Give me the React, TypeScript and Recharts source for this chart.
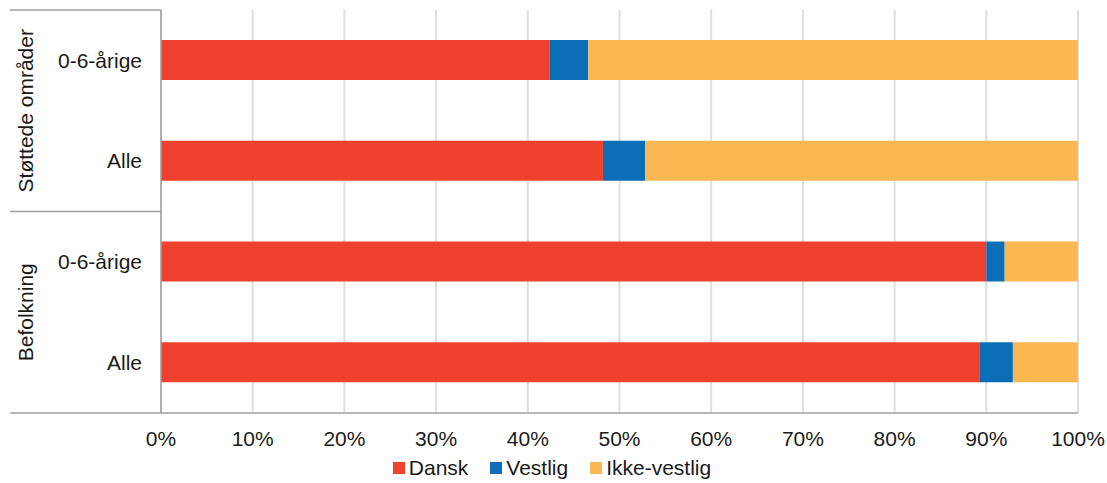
import React from 'react';
import { BarChart, Bar, XAxis, YAxis, CartesianGrid, Legend } from 'recharts';

const groups = ['Støttede områder', 'Støttede områder', 'Befolkning', 'Befolkning'];
const categories = ['0-6-årige', 'Alle', '0-6-årige', 'Alle'];
const dansk = [42.4, 48.2, 90.0, 89.3];
const vestlig = [4.2, 4.6, 2.0, 3.6];
const ikkeVestlig = [53.4, 47.2, 8.0, 7.1];
const xTicks = [0, 10, 20, 30, 40, 50, 60, 70, 80, 90, 100];

const W = 1107;
const H = 483;
const TOP = 10;
const LEGEND_H = 30;
const XAXIS_H = 40;
const Y_AXIS_W = 161;
const PLOT_H = H - TOP - LEGEND_H - XAXIS_H;
const BAND = PLOT_H / categories.length;
const FONT = '"Liberation Sans", Arial, sans-serif';
const FS = 21;
const LINE = '#a0a0a0';

const series = [
  { key: 'dansk', name: 'Dansk', color: '#EF412E' },
  { key: 'vestlig', name: 'Vestlig', color: '#0D6EB8' },
  { key: 'ikkeVestlig', name: 'Ikke-vestlig', color: '#FBB751' },
];

const data = categories.map((cat, i) => ({
  id: `${groups[i]}|${cat}`,
  group: groups[i],
  label: cat,
  dansk: dansk[i],
  vestlig: vestlig[i],
  ikkeVestlig: ikkeVestlig[i],
}));

function CategoryTick(props: any) {
  const { y, index } = props;
  const i = index as number;
  const isFirst = i === 0 || groups[i - 1] !== groups[i];
  const isLast = i === groups.length - 1;
  const count = groups.filter((g) => g === groups[i]).length;
  const groupTop = y - BAND / 2;
  const groupMid = groupTop + (count * BAND) / 2;
  return (
    <g>
      <text x={142} y={y} dy="0.35em" textAnchor="end" fontSize={FS} fill="#1a1a1a" fontFamily={FONT}>
        {categories[i]}
      </text>
      {isFirst && (
        <>
          <line x1={10} x2={Y_AXIS_W} y1={groupTop} y2={groupTop} stroke={LINE} strokeWidth={1.5} />
          <text
            x={26}
            y={groupMid}
            dy="0.35em"
            textAnchor="middle"
            fontSize={FS}
            fill="#1a1a1a"
            fontFamily={FONT}
            transform={`rotate(-90 26 ${groupMid})`}
          >
            {groups[i]}
          </text>
        </>
      )}
      {isLast && (
        <line x1={10} x2={Y_AXIS_W} y1={y + BAND / 2} y2={y + BAND / 2} stroke={LINE} strokeWidth={1.5} />
      )}
    </g>
  );
}

function LegendContent() {
  return (
    <div
      style={{
        display: 'flex',
        justifyContent: 'center',
        alignItems: 'center',
        height: LEGEND_H,
        paddingLeft: 26,
        fontFamily: FONT,
        fontSize: FS,
        color: '#1a1a1a',
      }}
    >
      {series.map((s) => (
        <div key={s.key} style={{ display: 'flex', alignItems: 'center', margin: '0 11px' }}>
          <span style={{ width: 12, height: 12, background: s.color, display: 'inline-block', marginRight: 4 }} />
          <span>{s.name}</span>
        </div>
      ))}
    </div>
  );
}

export default function App() {
  return (
    <div style={{ width: W, height: H, background: '#fff' }}>
      <style>{'body{margin:0}'}</style>
      <BarChart
        width={W}
        height={H}
        data={data}
        layout="vertical"
        margin={{ top: TOP, right: 29, left: 0, bottom: 0 }}
        barSize={40}
      >
        <CartesianGrid horizontal={false} stroke="#dedede" strokeWidth={2} />
        <XAxis
          type="number"
          domain={[0, 100]}
          ticks={xTicks}
          tickFormatter={(v) => `${v}%`}
          interval={0}
          tickLine={false}
          tickMargin={12}
          height={XAXIS_H}
          axisLine={{ stroke: LINE, strokeWidth: 1.5 }}
          tick={{ fontSize: FS, fill: '#1a1a1a', fontFamily: FONT }}
        />
        <YAxis
          type="category"
          dataKey="id"
          width={Y_AXIS_W}
          tickLine={false}
          axisLine={{ stroke: LINE, strokeWidth: 1.5 }}
          interval={0}
          tick={(p: any) => <CategoryTick {...p} />}
        />
        <Legend verticalAlign="bottom" height={LEGEND_H} content={() => <LegendContent />} />
        {series.map((s) => (
          <Bar key={s.key} dataKey={s.key} name={s.name} stackId="a" fill={s.color} isAnimationActive={false} />
        ))}
      </BarChart>
    </div>
  );
}
